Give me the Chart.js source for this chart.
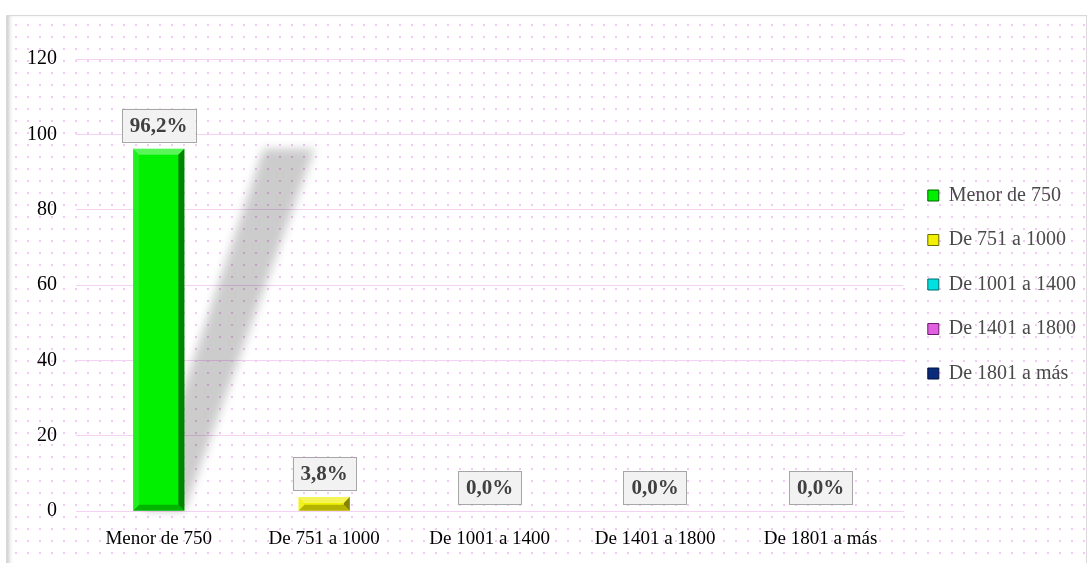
<!DOCTYPE html>
<html lang="es">
<head>
  <meta charset="UTF-8" />
  <title>Ingreso mensual</title>
  <script src="https://cdn.jsdelivr.net/npm/chart.js"></script>
  <style>
    body { margin: 0; background: #fff; width: 1091px; height: 563px; overflow: hidden; }
    .frame {
      position: absolute; left: 6px; top: 15px; width: 1079px; height: 560px;
      border: 1px solid #d9d9d9;
      box-shadow: inset 4px 0 4px -2px #c8c8c8;
      background-color: #fff;
      background-image: radial-gradient(circle, #f3c8f3 0.9px, transparent 1.3px);
      background-size: 12px 12px;
      background-position: 3px 3px;
    }
    canvas { display: block; }
  </style>
</head>
<body>
  <div class="frame">
    <canvas id="chart" width="1079" height="548"></canvas>
  </div>

  <script>
    const categories = ['Menor de 750', 'De 751 a 1000', 'De 1001 a 1400', 'De 1401 a 1800', 'De 1801 a más'];
    const percentages = [96.2, 3.8, 0.0, 0.0, 0.0];
    const barColors = ['#00f000', '#f0f000', '#00e0e0', '#e060e0', '#0a2a7a'];
    const edgeColors = ['#006400', '#6a6a00', '#006a6a', '#6a1a6a', '#001040'];
    const yTicks = [0, 20, 40, 60, 80, 100, 120];

    const serif = '"Liberation Serif", "Times New Roman", serif';

    // sombra en perspectiva detras de cada barra
    const shadowPlugin = {
      id: 'shadow',
      beforeDatasetsDraw(chart) {
        const ctx = chart.ctx;
        const meta = chart.getDatasetMeta(0);
        ctx.save();
        ctx.filter = 'blur(5px)';
        ctx.fillStyle = 'rgba(0,0,0,0.2)';
        meta.data.forEach(bar => {
          const h = bar.base - bar.y;
          if (h < 20) return;
          const half = bar.width / 2;
          const shift = h * 0.36;
          const topY = bar.base - h * 1.0;
          ctx.beginPath();
          ctx.moveTo(bar.x - half + 10, bar.base);
          ctx.lineTo(bar.x + half, bar.base);
          ctx.lineTo(bar.x + half + shift, topY);
          ctx.lineTo(bar.x - half + shift, topY);
          ctx.closePath();
          ctx.fill();
        });
        ctx.restore();
      }
    };

    // bisel de las barras y etiquetas con recuadro
    const bevelPlugin = {
      id: 'bevel',
      afterDatasetsDraw(chart) {
        const ctx = chart.ctx;
        const meta = chart.getDatasetMeta(0);
        ctx.save();
        meta.data.forEach((bar, i) => {
          const h = bar.base - bar.y;
          const l = bar.x - bar.width / 2, r = bar.x + bar.width / 2;
          const t = bar.y, b = bar.base;
          if (h > 1) {
            const e = Math.min(6, h / 2);
            ctx.fillStyle = 'rgba(255,255,255,0.35)';
            ctx.beginPath();
            ctx.moveTo(l, t); ctx.lineTo(r, t); ctx.lineTo(r - e, t + e); ctx.lineTo(l + e, t + e);
            ctx.closePath(); ctx.fill();
            ctx.fillStyle = 'rgba(0,0,0,0.45)';
            ctx.beginPath();
            ctx.moveTo(r, t); ctx.lineTo(r, b); ctx.lineTo(r - e, b - e); ctx.lineTo(r - e, t + e);
            ctx.closePath(); ctx.fill();
            ctx.fillStyle = 'rgba(0,0,0,0.25)';
            ctx.beginPath();
            ctx.moveTo(l, b); ctx.lineTo(r, b); ctx.lineTo(r - e, b - e); ctx.lineTo(l + e, b - e);
            ctx.closePath(); ctx.fill();
            ctx.fillStyle = 'rgba(255,255,255,0.12)';
            ctx.beginPath();
            ctx.moveTo(l, t); ctx.lineTo(l + e, t + e); ctx.lineTo(l + e, b - e); ctx.lineTo(l, b);
            ctx.closePath(); ctx.fill();
          }
          // etiqueta
          const text = percentages[i].toFixed(1).replace('.', ',') + '%';
          ctx.font = 'bold 21px ' + serif;
          const w = ctx.measureText(text).width + 16;
          const bh = 33;
          const by = t - 7 - bh;
          ctx.fillStyle = '#f2f2f2';
          ctx.fillRect(bar.x - w / 2, by, w, bh);
          ctx.strokeStyle = '#a6a6a6';
          ctx.lineWidth = 1;
          ctx.strokeRect(Math.round(bar.x - w / 2) + 0.5, Math.round(by) + 0.5, Math.round(w), bh);
          ctx.fillStyle = '#404040';
          ctx.textAlign = 'center';
          ctx.textBaseline = 'middle';
          ctx.fillText(text, bar.x, by + bh / 2 + 1);
        });
        ctx.restore();
      }
    };

    new Chart(document.getElementById('chart'), {
      type: 'bar',
      data: {
        labels: categories,
        datasets: [{
          data: percentages,
          backgroundColor: barColors,
          borderWidth: 0,
          barPercentage: 0.31,
          categoryPercentage: 1
        }]
      },
      options: {
        responsive: false,
        animation: false,
        layout: { padding: { left: 1, right: 0, top: 43, bottom: 6 } },
        scales: {
          x: {
            grid: { display: false },
            border: { display: true, color: '#f5d2f5' },
            ticks: { color: '#000', font: { family: serif, size: 19 }, padding: 8 }
          },
          y: {
            min: 0, max: 120,
            afterBuildTicks: axis => { axis.ticks = yTicks.map(v => ({ value: v })); },
            grid: { color: '#f5d2f5', drawTicks: false },
            border: { display: false },
            ticks: { color: '#000', font: { family: serif, size: 20 }, padding: 19 }
          }
        },
        plugins: {
          tooltip: { enabled: false },
          legend: {
            position: 'right',
            align: 'start',
            title: { display: true, text: '', padding: { top: 78, bottom: 0 }, font: { family: serif, size: 20 } },
            labels: {
              color: '#4a4a4a',
              font: { family: serif, size: 20 },
              boxWidth: 11, boxHeight: 11,
              padding: 24.5,
              generateLabels: () => categories.map((c, i) => ({
                text: c,
                fillStyle: barColors[i],
                strokeStyle: edgeColors[i],
                fontColor: '#4a4a4a',
                lineWidth: 1,
                datasetIndex: 0,
                index: i
              }))
            }
          }
        }
      },
      plugins: [shadowPlugin, bevelPlugin]
    });
  </script>
</body>
</html>
